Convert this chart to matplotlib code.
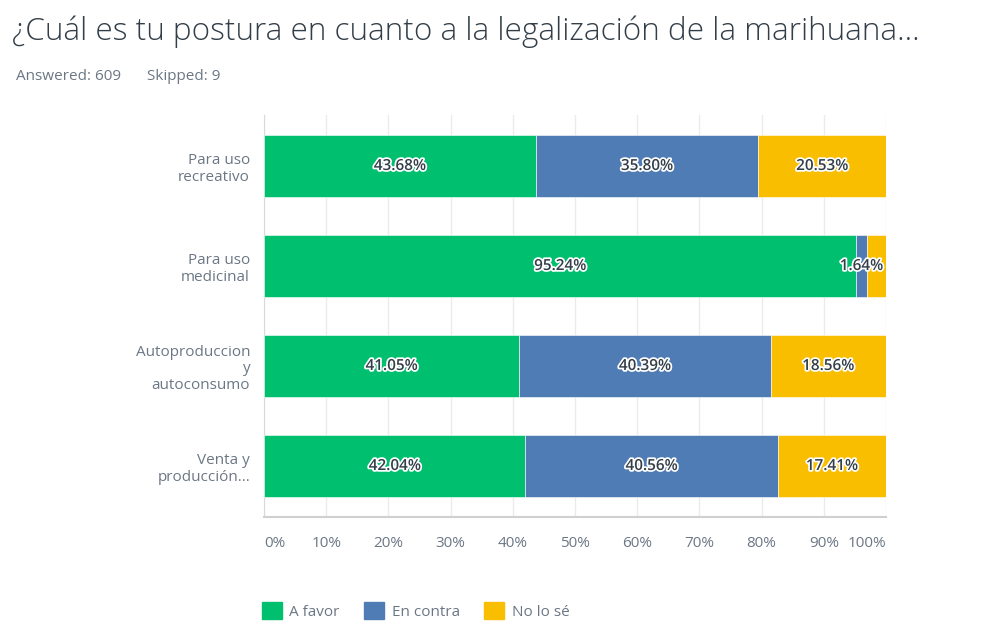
import matplotlib
matplotlib.use("Agg")
import matplotlib.pyplot as plt
import matplotlib.patheffects as pe
from matplotlib.patches import Patch
import numpy as np

plt.rcParams["font.family"] = ["Open Sans", "DejaVu Sans"]

# datos
categorias = ["Para uso\nrecreativo", "Para uso\nmedicinal",
              "Autoproduccion\ny\nautoconsumo", "Venta y\nproducción..."]
a_favor = [43.68, 95.24, 41.05, 42.04]
en_contra = [35.80, 1.64, 40.39, 40.56]
no_lo_se = [20.53, 3.12, 18.56, 17.41]
series = ["A favor", "En contra", "No lo sé"]
colores = ["#00BF6F", "#507CB6", "#F9BE00"]
ticks = [0, 10, 20, 30, 40, 50, 60, 70, 80, 90, 100]
# etiquetas ocultas cuando el segmento es muy chico
ocultar = [(1, 2)]

texto = "#333e48"
gris = "#6b7785"

fig = plt.figure(figsize=(9.83, 6.41), dpi=100)
ax = fig.add_axes([264 / 983, 1 - 517 / 641, 622 / 983, 402 / 641])

y = np.arange(len(categorias))
izq = np.zeros(len(categorias))
for j, (vals, col) in enumerate(zip([a_favor, en_contra, no_lo_se], colores)):
    vals = np.array(vals)
    ax.barh(y, vals, left=izq, height=0.62, color=col, edgecolor="white",
            linewidth=0.4, zorder=3)
    for i, v in enumerate(vals):
        if (i, j) in ocultar:
            continue
        ax.text(izq[i] + v / 2, y[i], f"{v:.2f}%", ha="center", va="center",
                fontsize=11, fontweight="semibold", color=texto, zorder=5,
                path_effects=[pe.withStroke(linewidth=2.5, foreground="white")])
    izq += vals

ax.set_xlim(0, 100)
ax.set_ylim(3.51, -0.51)
ax.set_yticks(y)
ax.set_yticklabels(categorias, fontsize=11, color=gris, linespacing=1.15)
ax.set_xticks(ticks)
lbls = ax.set_xticklabels([f"{t}%" for t in ticks], fontsize=11, color=gris)
lbls[0].set_ha("left")
lbls[-1].set_ha("right")
ax.tick_params(axis="both", length=0)
ax.tick_params(axis="x", pad=14)
ax.tick_params(axis="y", pad=10)
ax.grid(axis="x", color="#ebebeb", linewidth=1, zorder=0)
for s in ["top", "right"]:
    ax.spines[s].set_visible(False)
ax.spines["left"].set_color("#d9d9d9")
ax.spines["bottom"].set_color("#d0d0d0")
ax.spines["bottom"].set_linewidth(1.5)

fig.text(12 / 983, 1 - 32 / 641, "¿Cuál es tu postura en cuanto a la legalización de la marihuana...",
         fontsize=22.7, fontweight="light", color=texto, va="center", ha="left")
fig.text(16 / 983, 1 - 76 / 641, "Answered: 609", fontsize=11, color=gris,
         va="center", ha="left")
fig.text(147 / 983, 1 - 76 / 641, "Skipped: 9", fontsize=11, color=gris,
         va="center", ha="left")

handles = [Patch(facecolor=c, edgecolor=c) for c in colores]
fig.legend(handles, series, loc="center left", bbox_to_anchor=(248 / 983, 1 - 611 / 641),
           ncol=3, frameon=False, fontsize=11, labelcolor=gris,
           handlelength=1.3, handleheight=1.3, handletextpad=0.5, columnspacing=1.6)

fig.savefig("out.png", dpi=100)
